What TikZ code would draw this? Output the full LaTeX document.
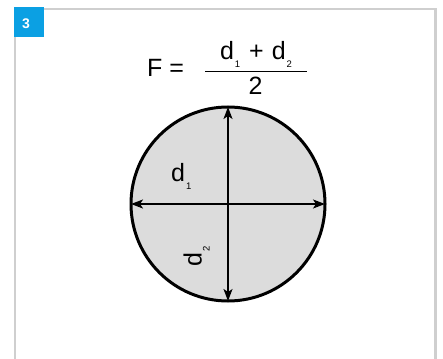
\documentclass[tikz,border=0pt]{standalone}
\usepackage{fontspec}
\setmainfont{Liberation Sans}
\usepackage{tikz}
\usetikzlibrary{positioning,arrows.meta}
\definecolor{tagblue}{HTML}{0BA0E3}
\definecolor{panelgray}{HTML}{CFCFCF}
\definecolor{diskgray}{HTML}{DCDCDC}
\newcommand{\idx}[1]{\kern1pt\raisebox{-8pt}{\fontsize{9.5}{9.5}\selectfont #1}}

\begin{document}
\begin{tikzpicture}[x=1pt, y=-1pt,
  panel/.style={draw=panelgray, line width=2.2pt},
  tag/.style={rectangle, fill=tagblue, minimum size=30pt, inner sep=0pt},
  tagnum/.style={text=white, font=\fontsize{14}{14}\selectfont\bfseries},
  txt/.style={font=\fontsize{25}{25}\selectfont, inner sep=0pt},
  disk/.style={circle, draw=black, fill=diskgray, line width=3pt, minimum size=194pt, inner sep=0pt, outer sep=0pt},
  dim/.style={{Stealth[length=12pt,width=9pt,inset=3pt]}-{Stealth[length=12pt,width=9pt,inset=3pt]}, line width=1.8pt}
]
\useasboundingbox (0,0) rectangle (443,358);
\draw[panel] (15,362) |- (435.5,9.3) -- (435.5,362);
\node[tag] (tag) at (29,22) {};
\node[tagnum] (tagno) at (26,23.3) {3};

% formula
\node[txt, anchor=base west] (lhs) at (147,76.7) {F =};
\node[txt, anchor=base] (num) at (256,60) {d\idx{1}\hspace{9pt}+\hspace{8pt}d\idx{2}};
\coordinate (barL) at (205,71.7);
\coordinate (barR) at (306.5,71.7);
\draw[line width=1.6pt] (barL) -- (barR);
\node[txt, anchor=base] (den) at (255.5,95) {2};

% disk with diameters
\node[disk] (disk) at (228,204) {};
\draw[dim] (disk.north) -- (disk.south);
\draw[dim] (disk.west) -- (disk.east);
\node[txt, anchor=base west] (done) at (171,181.7) {d\idx{1}};
\node[txt, anchor=base west, rotate=90] (dtwo) at (201.7,267) {d\idx{2}};
\end{tikzpicture}
\end{document}
